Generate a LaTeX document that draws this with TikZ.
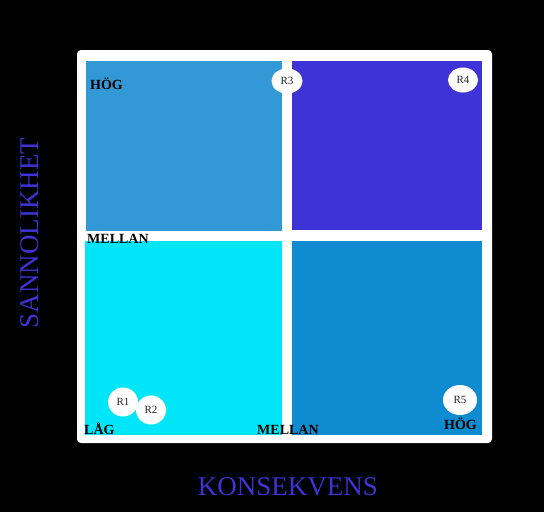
\documentclass[tikz,border=0pt]{standalone}
\usepackage{fontspec}
\setmainfont{Liberation Serif}
\usetikzlibrary{shapes.geometric}
\definecolor{hogblue}{RGB}{51,153,214}
\definecolor{topblue}{RGB}{61,51,214}
\definecolor{lowcyan}{RGB}{0,229,247}
\definecolor{midblue}{RGB}{15,139,207}
\definecolor{axisblue}{RGB}{61,51,214}
\tikzset{
  risk/.style={ellipse,fill=white,inner sep=0pt,minimum width=30pt,minimum height=29pt,font=\fontsize{11}{11}\selectfont,text=black!85},
  lvl/.style={anchor=base west,inner sep=0pt,font=\bfseries\fontsize{14}{14}\selectfont,text=black},
  axislbl/.style={anchor=base,inner sep=0pt,font=\fontsize{27}{27}\selectfont,text=axisblue}
}
\begin{document}
\begin{tikzpicture}[x=1pt,y=-1pt]
			\fill[black] (0,0) rectangle (544,512);
			\useasboundingbox (0,0) rectangle (544,512);
			\fill[white,rounded corners=4pt] (77,50) rectangle (492,443);
			% quadrants
			\fill[hogblue] (86,61) rectangle (282,231);
			\fill[topblue] (292,61) rectangle (482,230);
			\fill[lowcyan] (85,241) rectangle (282,435);
			\fill[midblue] (292,241) rectangle (482,435);
			% levels
			\node[lvl] (hogy) at (90,89) {HÖG};
			\node[lvl] (mellany) at (87,243) {MELLAN};
			\node[lvl] (lag) at (84,434) {LÅG};
			\node[lvl] (mellanx) at (257,434) {MELLAN};
			\node[lvl] (hogx) at (444,429) {HÖG};
			% risks
			\node[risk] (r1) at (123,402) {R1};
			\node[risk] (r2) at (151,410) {R2};
			\node[risk,minimum height=25pt,minimum width=31pt] (r3) at (287,81) {R3};
			\node[risk,minimum height=25pt] (r4) at (463,80) {R4};
			\node[risk,minimum width=34pt,minimum height=30pt] (r5) at (460,400) {R5};
			% axes
			\node[axislbl,rotate=90] (sannolikhet) at (38,233) {SANNOLIKHET};
			\node[axislbl] (konsekvens) at (288,495) {KONSEKVENS};
		\end{tikzpicture}
\end{document}
